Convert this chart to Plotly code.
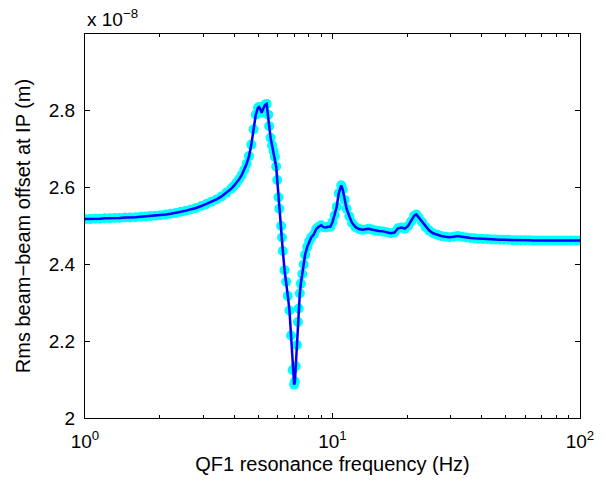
import plotly.graph_objects as go

# QF1 resonance frequency (Hz)
freq = [1.00, 1.05, 1.10, 1.15, 1.20, 1.26, 1.32, 1.38, 1.45, 1.52, 1.60, 1.68, 1.76, 1.84,
        1.93, 2.02, 2.12, 2.22, 2.33, 2.44, 2.56, 2.68, 2.81, 2.95, 3.09, 3.24, 3.40, 3.56,
        3.73, 3.91, 4.00, 4.10, 4.20, 4.30, 4.40, 4.50, 4.60, 4.70, 4.80, 4.90, 5.00, 5.05,
        5.10, 5.17, 5.25, 5.33, 5.42, 5.50, 5.55, 5.62, 5.70, 5.78, 5.85, 5.92, 5.98, 6.05,
        6.10, 6.20, 6.25, 6.30, 6.40, 6.50, 6.60, 6.70, 6.80, 6.90, 7.00, 7.05, 7.10, 7.18,
        7.25, 7.30, 7.38, 7.45, 7.55, 7.65, 7.75, 7.90, 8.05, 8.20, 8.40, 8.60, 8.80, 9.00,
        9.20, 9.40, 9.60, 9.80, 10.0, 10.2, 10.4, 10.6, 10.85, 11.0, 11.2, 11.4, 11.7, 12.0,
        12.4, 12.8, 13.2, 13.6, 14.0, 14.4, 14.9, 15.4, 16.0, 16.6, 17.2, 17.8, 18.4, 19.0,
        19.6, 20.2, 20.8, 21.4, 21.8, 22.3, 23.0, 23.8, 24.6, 25.5, 26.5, 27.5, 28.6, 29.7,
        30.9, 32.1, 33.4, 34.7, 36.1, 37.5, 39.0, 40.6, 42.2, 43.9, 45.6, 47.4, 49.3, 51.3,
        53.3, 55.4, 57.6, 59.9, 62.3, 64.8, 67.3, 70.0, 72.8, 75.7, 78.7, 81.8, 85.0, 88.4,
        91.9, 95.5, 100.0]

# Rms beam-beam offset at IP, in units of 1e-8 m
offset = [2.518, 2.518, 2.519, 2.519, 2.520, 2.520, 2.521, 2.521, 2.522, 2.522, 2.523, 2.524,
          2.525, 2.526, 2.527, 2.528, 2.530, 2.532, 2.534, 2.537, 2.540, 2.543, 2.547, 2.552,
          2.557, 2.563, 2.569, 2.577, 2.587, 2.598, 2.605, 2.613, 2.622, 2.633, 2.646, 2.662,
          2.682, 2.712, 2.752, 2.790, 2.808, 2.810, 2.806, 2.795, 2.805, 2.815, 2.818, 2.790,
          2.760, 2.730, 2.710, 2.695, 2.680, 2.655, 2.620, 2.575, 2.545, 2.500, 2.470, 2.435,
          2.385, 2.355, 2.318, 2.280, 2.215, 2.125, 2.087, 2.095, 2.135, 2.190, 2.250, 2.285,
          2.325, 2.350, 2.375, 2.400, 2.425, 2.445, 2.460, 2.470, 2.478, 2.492, 2.498, 2.502,
          2.497, 2.496, 2.498, 2.498, 2.510, 2.528, 2.550, 2.585, 2.606, 2.595, 2.568, 2.545,
          2.525, 2.508, 2.497, 2.492, 2.490, 2.491, 2.493, 2.491, 2.488, 2.487, 2.486, 2.484,
          2.481, 2.483, 2.494, 2.496, 2.493, 2.500, 2.512, 2.527, 2.530, 2.522, 2.510, 2.497,
          2.488, 2.481, 2.477, 2.474, 2.472, 2.471, 2.472, 2.474, 2.472, 2.470, 2.469, 2.468,
          2.467, 2.466, 2.466, 2.465, 2.465, 2.464, 2.464, 2.464, 2.463, 2.463, 2.463, 2.463,
          2.463, 2.462, 2.462, 2.462, 2.462, 2.462, 2.462, 2.462, 2.462, 2.462, 2.462, 2.462,
          2.462]

x_tickvals = [1, 10, 100]
x_ticktext = ["10<sup>0</sup>", "10<sup>1</sup>", "10<sup>2</sup>"]
x_minor = [2, 3, 4, 5, 6, 7, 8, 9, 20, 30, 40, 50, 60, 70, 80, 90]
y_tickvals = [2.0, 2.2, 2.4, 2.6, 2.8]
y_ticktext = ["2", "2.2", "2.4", "2.6", "2.8"]

FONT = "Liberation Sans, Arial, Helvetica, sans-serif"
TICK_SIZE = 19
TITLE_SIZE = 20

fig = go.Figure()
fig.add_trace(go.Scatter(
    x=freq, y=offset, mode="markers",
    marker=dict(symbol="circle", size=10, color="#00FFFF", line=dict(width=0)),
    hoverinfo="skip", showlegend=False))
fig.add_trace(go.Scatter(
    x=freq, y=offset, mode="lines",
    line=dict(color="#0000FF", width=2.5),
    showlegend=False))

axis_common = dict(
    showline=True, linecolor="black", linewidth=1, mirror="allticks",
    ticks="inside", ticklen=5, tickcolor="black", showgrid=False, zeroline=False,
    tickfont=dict(family=FONT, size=TICK_SIZE, color="black"),
)

fig.update_xaxes(
    type="log", range=[0, 2], tickvals=x_tickvals, ticktext=x_ticktext,
    ticklabelstandoff=6,
    minor=dict(tickvals=x_minor, ticks="inside", ticklen=3, tickcolor="black"),
    title=dict(text="QF1 resonance frequency (Hz)",
               font=dict(family=FONT, size=TITLE_SIZE, color="black"), standoff=6),
    **axis_common)
fig.update_yaxes(
    range=[2.0, 3.0], tickvals=y_tickvals, ticktext=y_ticktext,
    ticklabelstandoff=5,
    title=dict(text="Rms beam\u2212beam offset at IP (m)",
               font=dict(family=FONT, size=TITLE_SIZE, color="black"), standoff=12),
    **axis_common)

fig.add_annotation(
    x=0, y=1, xref="paper", yref="paper", xanchor="left", yanchor="bottom",
    text="x 10<sup>\u22128</sup>", showarrow=False, yshift=2,
    font=dict(family=FONT, size=TICK_SIZE, color="black"))

fig.update_layout(
    width=606, height=487,
    margin=dict(l=85, r=24, t=34, b=69),
    paper_bgcolor="white", plot_bgcolor="white",
    font=dict(family=FONT, size=TICK_SIZE, color="black"),
)

fig.write_html("out.html")
